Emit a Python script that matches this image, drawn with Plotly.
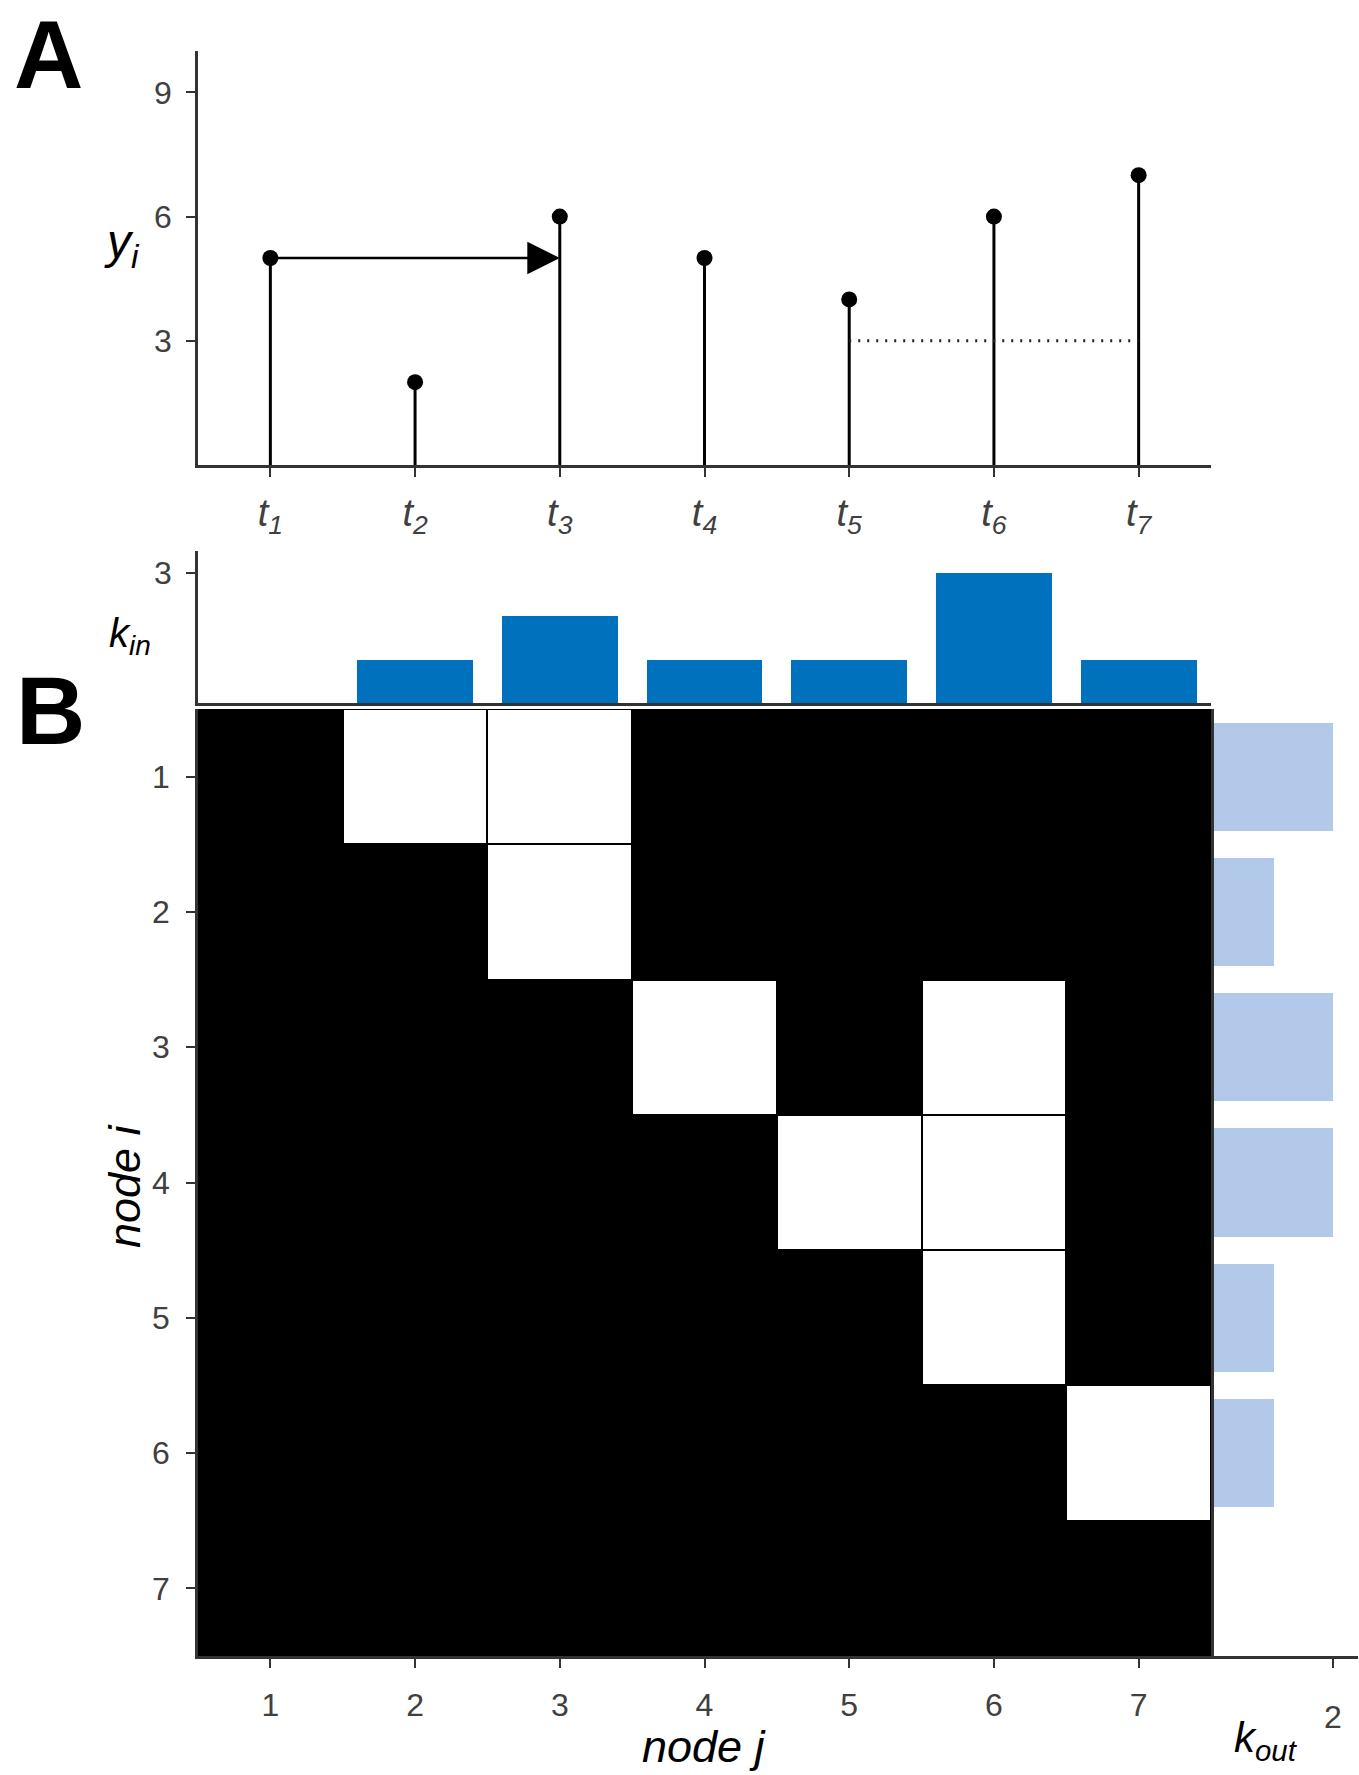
import plotly.graph_objects as go

# ---------------- data ----------------
times = [1, 2, 3, 4, 5, 6, 7]
time_labels = ["t1", "t2", "t3", "t4", "t5", "t6", "t7"]
y_values = [5, 2, 6, 5, 4, 6, 7]
arrow_from = 1          # t1 -> t3 visibility arrow
arrow_to = 3
threshold_from = 5      # dotted line from t5 to t7
threshold_to = 7
threshold_level = 3

nodes = [1, 2, 3, 4, 5, 6, 7]
# directed links (i -> j), drawn as white cells
links_i = [1, 1, 2, 3, 3, 4, 4, 5, 6]
links_j = [2, 3, 3, 4, 6, 5, 6, 6, 7]
k_in = [0, 1, 2, 1, 1, 3, 1]
k_out = [2, 1, 2, 2, 1, 1, 0]

# ---------------- layout geometry ----------------
W, H = 1359, 1775
def px(x):
    return x / W
def py(y):
    return 1 - y / H

FONT = "Liberation Sans, Arial, sans-serif"
TICKFONT = "Liberation Sans Narrow, Arial Narrow, Liberation Sans, Arial, sans-serif"
TICKCOL = "#404040"
LINECOL = "#333333"
BAR_DARK = "rgb(0,114,189)"
BAR_LIGHT = "rgb(178,201,234)"

fig = go.Figure()

# Panel A: stems
stem_x, stem_y = [], []
for t, v in zip(times, y_values):
    stem_x += [t, t, None]
    stem_y += [0, v, None]
fig.add_trace(go.Scatter(x=stem_x, y=stem_y, mode="lines",
                         line=dict(color="black", width=3),
                         xaxis="x", yaxis="y", hoverinfo="skip", showlegend=False))
fig.add_trace(go.Scatter(x=times, y=y_values, mode="markers",
                         marker=dict(color="black", size=16),
                         xaxis="x", yaxis="y", showlegend=False))
# dotted threshold line
fig.add_trace(go.Scatter(x=[threshold_from, threshold_to],
                         y=[threshold_level, threshold_level], mode="lines",
                         line=dict(color="#222", width=3, dash="2px,7px"),
                         xaxis="x", yaxis="y", showlegend=False))

# Panel B: k_in bars
fig.add_trace(go.Bar(x=nodes, y=k_in, width=0.8, marker=dict(color=BAR_DARK, line=dict(width=0)),
                     xaxis="x2", yaxis="y2", showlegend=False))

# adjacency heatmap
z = [[0] * len(nodes) for _ in nodes]
for i, j in zip(links_i, links_j):
    z[i - 1][j - 1] = 1
fig.add_trace(go.Heatmap(x=nodes, y=nodes, z=z, xgap=2, ygap=2,
                         colorscale=[[0, "black"], [1, "white"]], showscale=False,
                         zmin=0, zmax=1, xaxis="x3", yaxis="y3"))

# k_out bars
fig.add_trace(go.Bar(y=nodes, x=k_out, width=0.8, orientation="h",
                     marker=dict(color=BAR_LIGHT, line=dict(width=0)),
                     xaxis="x4", yaxis="y4", showlegend=False))

main_dom = [px(198), px(1211)]
axis_common = dict(showline=True, linecolor=LINECOL, linewidth=2.5, showgrid=False,
                   zeroline=False, ticks="outside", ticklen=9, tickwidth=2, tickcolor=LINECOL,
                   tickfont=dict(family=TICKFONT, size=32, color=TICKCOL))

ttext = ["<i>t</i><sub><i>%s</i></sub>" % s[1:] for s in time_labels]

fig.update_layout(
    width=W, height=H, margin=dict(l=0, r=0, t=0, b=0),
    paper_bgcolor="white", plot_bgcolor="rgba(0,0,0,0)",
    font=dict(family=FONT),
    xaxis=dict(axis_common, domain=main_dom, range=[0.5, 7.5], anchor="y",
               tickvals=times, ticktext=ttext, ticklabelstandoff=4,
               tickfont=dict(family=FONT, size=38, color=TICKCOL)),
    yaxis=dict(axis_common, domain=[py(465), py(51)], range=[0, 10], anchor="x",
               tickvals=[3, 6, 9], ticklabelstandoff=8),
    xaxis2=dict(axis_common, domain=main_dom, range=[0.5, 7.5], anchor="y2",
                showticklabels=False, ticks=""),
    yaxis2=dict(axis_common, domain=[py(703), py(551)], range=[0, 3.5], anchor="x2",
                tickvals=[3], ticklabelstandoff=8),
    xaxis3=dict(axis_common, domain=main_dom, range=[0.5, 7.5], anchor="y3",
                tickvals=nodes, ticklabelstandoff=10),
    yaxis3=dict(axis_common, domain=[py(1656), py(709)], range=[7.5, 0.5], anchor="x3",
                tickvals=nodes, ticklabelstandoff=10),
    xaxis4=dict(axis_common, domain=[px(1214), px(1358)], range=[0, 2.42], anchor="y4",
                tickvals=[2], ticklabelstandoff=22),
    yaxis4=dict(axis_common, domain=[py(1656), py(709)], range=[7.5, 0.5], anchor="x4",
                showticklabels=False, ticks=""),
    bargap=0,
)

# black background behind the heatmap (shows through the cell gaps)
fig.add_shape(type="rect", xref="x3 domain", yref="y3 domain", x0=0, x1=1, y0=0, y1=1,
              fillcolor="black", line=dict(width=0), layer="below")

# arrow t1 -> t3
fig.add_annotation(x=arrow_to, y=y_values[arrow_from - 1],
                   ax=arrow_from, ay=y_values[arrow_from - 1], xref="x", yref="y",
                   axref="x", ayref="y", showarrow=True, arrowhead=2, arrowsize=2.6,
                   arrowwidth=2.5, arrowcolor="black", standoff=0, text="")

def label(text, x, y, size, angle=0, bold=False):
    fig.add_annotation(text=("<b>%s</b>" % text) if bold else text, x=px(x), y=py(y),
                       xref="paper", yref="paper", showarrow=False, textangle=angle,
                       font=dict(family=FONT, size=size, color="black"),
                       xanchor="center", yanchor="middle")

label("A", 48, 55, 96, bold=True)
label("B", 51, 710, 96, bold=True)
label("<i>y</i><sub><i>i</i></sub>", 122, 245, 48)
label("<i>k</i><sub><i>in</i></sub>", 130, 636, 40)
label("<i>node i</i>", 124, 1186, 45, angle=-90)
label("<i>node j</i>", 704, 1746, 45)
label("<i>k</i><sub><i>out</i></sub>", 1266, 1740, 42)

fig.write_html("out.html", config={"displayModeBar": False},
               post_script="document.body.style.margin='0';")
